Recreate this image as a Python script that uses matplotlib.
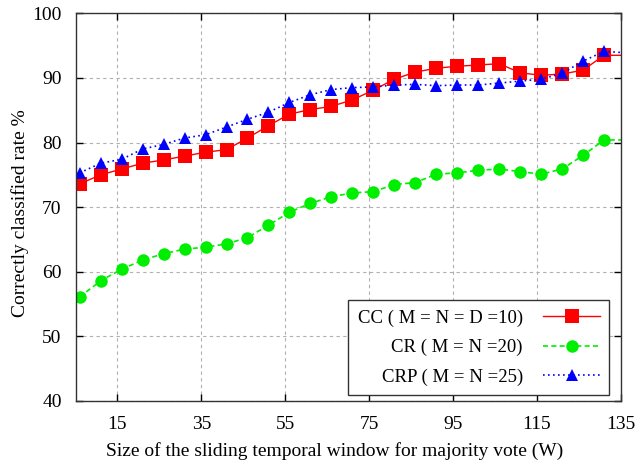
import matplotlib
matplotlib.use("Agg")
import matplotlib.pyplot as plt
import numpy as np

plt.rcParams['font.family'] = ['Liberation Serif', 'DejaVu Serif']

# window sizes (last one lies beyond the right edge and is clipped)
W = [6, 11, 16, 21, 26, 31, 36, 41, 46, 51, 56, 61, 66, 71, 76, 81, 86, 91,
     96, 101, 106, 111, 116, 121, 126, 131, 136]

cc = [73.6, 75.0, 75.9, 76.8, 77.3, 77.9, 78.5, 78.9, 80.7, 82.6, 84.4, 85.1,
      85.6, 86.6, 88.1, 89.8, 90.9, 91.5, 91.8, 92.0, 92.2, 90.8, 90.4, 90.6,
      91.2, 93.5, 93.5]
cr = [56.1, 58.6, 60.4, 61.8, 62.8, 63.5, 63.8, 64.3, 65.3, 67.2, 69.2, 70.6,
      71.6, 72.2, 72.4, 73.5, 73.8, 75.1, 75.3, 75.7, 75.9, 75.5, 75.1, 75.9,
      78.0, 80.4, 80.4]
crp = [75.3, 76.8, 77.4, 79.0, 79.7, 80.7, 81.2, 82.4, 83.6, 84.7, 86.2, 87.4,
       88.2, 88.5, 88.6, 88.9, 89.0, 88.8, 88.9, 88.9, 89.2, 89.5, 89.8, 90.7,
       92.6, 94.1, 93.9]

labels = ["CC ( M = N = D =10)", "CR ( M = N =20)", "CRP ( M = N =25)"]
xticks = [15, 35, 55, 75, 95, 115, 135]
yticks = [40, 50, 60, 70, 80, 90, 100]

fig = plt.figure(figsize=(6.4, 4.68), dpi=100)
ax = fig.add_axes([0.118, 0.1432, 0.852, 0.8284])

mk = slice(0, len(W) - 1)
ax.plot(W, cc, color='#ff0000', lw=1.0, ls='-', marker='s', ms=9.5,
        markeredgewidth=0, markevery=mk, label=labels[0])
ax.plot(W, cr, color='#00ee00', lw=1.2, ls=(0, (3, 2)), marker='o', ms=9.0,
        markeredgewidth=0, markevery=mk, label=labels[1])
ax.plot(W, crp, color='#0000ff', lw=1.2, ls=(0, (1, 2)), marker='^', ms=9.0,
        markeredgewidth=0, markevery=mk, label=labels[2])

ax.set_xlim(5, 135)
ax.set_ylim(40, 100)
ax.set_xticks(xticks)
ax.set_yticks(yticks)
ax.tick_params(direction='in', top=True, right=True, length=5, width=1,
               labelsize=14)
ax.tick_params(axis='x', pad=11)
ax.tick_params(axis='y', pad=10)
ax.grid(True, color='#b0b0b0', ls=(0, (3, 3)), lw=0.8)
for s in ax.spines.values():
    s.set_linewidth(1.0)
    s.set_color('#333333')

ax.set_xlabel("Size of the sliding temporal window for majority vote (W)",
              fontsize=14)
ax.xaxis.set_label_coords(0.4755, -0.128)
ax.set_ylabel("Correctly classified rate %", fontsize=14)
ax.yaxis.set_label_coords(-0.102, 0.4836)
ax.yaxis.label.set_verticalalignment('center')
ax.xaxis.label.set_verticalalignment('center')

leg = ax.legend(loc='lower right', bbox_to_anchor=(609 / 640, 1 - 395.3 / 468),
                bbox_transform=fig.transFigure,
                markerfirst=False, fontsize=13.5, frameon=True, fancybox=False,
                edgecolor='#333333', framealpha=1, handlelength=3.0,
                borderpad=0.5, labelspacing=0.65, handletextpad=1.1,
                borderaxespad=0)
leg.get_frame().set_linewidth(1.0)

fig.savefig("out.png", dpi=100)
